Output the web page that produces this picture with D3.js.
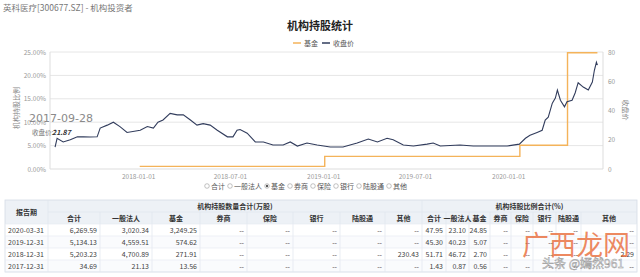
<!DOCTYPE html>
<html>
<head>
<meta charset="utf-8">
<script src="https://cdn.jsdelivr.net/npm/d3@7"></script>
<style>
  body { margin: 0; background: #fff; }
  svg { display: block; font-family: "Noto Sans CJK SC", "Noto Sans", sans-serif; }
</style>
</head>
<body>
<div id="chart"></div>
<script>
// closing price (收盘价)
var priceDates = ["2017-07-21","2017-07-25","2017-08-06","2017-08-20","2017-09-03","2017-09-15","2017-09-28","2017-10-12",
  "2017-10-18","2017-11-01","2017-11-13","2017-11-26","2017-12-10","2018-01-05","2018-01-19","2018-01-31","2018-02-09",
  "2018-02-19","2018-03-05","2018-03-19","2018-03-31","2018-04-14","2018-04-27","2018-05-09","2018-05-23","2018-06-06",
  "2018-06-26","2018-07-07","2018-07-15","2018-07-21","2018-08-04","2018-08-20","2018-09-05","2018-09-24","2018-10-14",
  "2018-10-28","2018-11-11","2018-11-30","2018-12-20","2019-01-15","2019-02-09","2019-03-09","2019-03-31","2019-04-18",
  "2019-05-07","2019-05-19","2019-06-08","2019-06-28","2019-07-25","2019-08-06","2019-08-20","2019-09-28","2019-10-24",
  "2019-11-27","2019-12-30","2020-01-23","2020-02-04","2020-02-13","2020-02-27","2020-03-08","2020-03-14","2020-03-20",
  "2020-03-28","2020-04-03","2020-04-07","2020-04-13","2020-04-21","2020-04-26","2020-05-06","2020-05-12","2020-05-18",
  "2020-05-28","2020-06-07","2020-06-15","2020-06-19","2020-06-23","2020-06-25"]
var priceValues = [15, 21, 18.5, 20, 22, 22, 21.87, 22,
  28, 30, 32, 29, 25, 26.5, 29, 28, 32,
  33.5, 38, 37, 37, 33.5, 30, 31, 30, 26.5,
  22, 22, 26.5, 27, 24.5, 18.5, 18.5, 16.4, 16.4,
  18.5, 15.7, 17.8, 16.4, 15, 15, 17.8, 20.5, 18.5,
  21, 20, 16.4, 15.7, 17, 17.8, 15.7, 16.4, 15.7,
  15.7, 15.7, 17, 21, 23, 25, 26.5, 33.5, 35.5,
  45, 48.5, 54, 47, 42.5, 46, 47, 52, 59,
  56, 54, 59.5, 67.5, 73, 71]

// fund holding ratio (基金, %), step series
var fundDates = ["2018-01-04","2018-12-28","2019-01-04","2020-01-24","2020-04-27","2020-06-25"]
var fundValues = [0.56, 0.56, 2.70, 5.07, 24.85, 24.85]

var xTicks = ["2018-01-01","2018-07-01","2019-01-01","2019-07-01","2020-01-01"]
var leftTicks = [0, 5, 10, 15, 20, 25]
var rightTicks = [0, 20, 40, 60, 80]
var filterNames = ["合计","一般法人","基金","券商","保险","银行","陆股通","其他"]

// table
var reportDates = ["2020-03-31","2019-12-31","2018-12-31","2017-12-31"]
var tableCols = ["合计","一般法人","基金","券商","保险","银行","陆股通","其他"]
var shareTotal = ["6,269.59","5,134.13","5,203.23","34.69"]
var shareCorp = ["3,020.34","4,559.51","4,700.89","21.13"]
var shareFund = ["3,249.25","574.62","271.91","13.56"]
var shareOther = ["--","--","230.43","--"]
var pctTotal = ["47.95","45.30","51.71","1.43"]
var pctCorp = ["23.10","40.23","46.72","0.87"]
var pctFund = ["24.85","5.07","2.70","0.56"]
var pctOther = ["--","--","2.29","--"]

var W = 640, H = 277
var parse = d3.timeParse("%Y-%m-%d")
var svg = d3.select('#chart').append('svg').attr('width', W).attr('height', H)

svg.append('text').attr('x', 3).attr('y', 11).attr('font-size', 8.5).attr('fill', '#777')
    .text('英科医疗[300677.SZ] - 机构投资者')

var x = d3.scaleTime().domain([parse("2017-07-11"), parse("2020-07-06")]).range([50, 603])
var yL = d3.scaleLinear().domain([0, 25]).range([169, 52])
var yR = d3.scaleLinear().domain([0, 80]).range([169, 52])

// grid
svg.append('g').selectAll('line').data(leftTicks.slice(1)).enter().append('line')
    .attr('x1', 50).attr('x2', 603).attr('y1', function (d) { return yL(d) }).attr('y2', function (d) { return yL(d) })
    .attr('stroke', '#e6e6e6')
svg.append('line').attr('x1', 50).attr('x2', 603).attr('y1', 169).attr('y2', 169).attr('stroke', '#ddd')
svg.append('line').attr('x1', 50).attr('x2', 50).attr('y1', 52).attr('y2', 169).attr('stroke', '#ddd')
svg.append('line').attr('x1', 603).attr('x2', 603).attr('y1', 52).attr('y2', 169).attr('stroke', '#ddd')

var axisL = svg.append('g').attr('transform', 'translate(50,0)')
    .call(d3.axisLeft(yL).tickValues(leftTicks).tickSize(0).tickPadding(4).tickFormat(function (d) { return d.toFixed(2) + '%' }))
var axisR = svg.append('g').attr('transform', 'translate(603,0)')
    .call(d3.axisRight(yR).tickValues(rightTicks).tickSize(0).tickPadding(5))
var axisX = svg.append('g').attr('transform', 'translate(0,169)')
    .call(d3.axisBottom(x).tickValues(xTicks.map(parse)).tickSize(0).tickPadding(5).tickFormat(d3.timeFormat('%Y-%m-%d')))
;[axisL, axisR, axisX].forEach(function (g) {
    g.select('.domain').remove()
    g.selectAll('text').attr('fill', '#999').attr('font-size', 6.5).attr('font-family', '"Noto Sans CJK SC", sans-serif')
})

svg.append('text').attr('transform', 'translate(19,108) rotate(-90)').attr('text-anchor', 'middle')
    .attr('font-size', 7).attr('fill', '#888').text('机构持股比例')
svg.append('text').attr('transform', 'translate(623,110) rotate(90)').attr('text-anchor', 'middle')
    .attr('font-size', 7).attr('fill', '#888').text('收盘价')

// lines
var fundLine = d3.line().curve(d3.curveStepAfter)
    .x(function (d, i) { return x(parse(fundDates[i])) }).y(function (d) { return yL(d) })
svg.append('path').attr('d', fundLine(fundValues)).attr('fill', 'none').attr('stroke', '#f4b35a').attr('stroke-width', 1.4)

var priceLine = d3.line()
    .x(function (d, i) { return x(parse(priceDates[i])) }).y(function (d) { return yR(d) })
svg.append('path').attr('d', priceLine(priceValues)).attr('fill', 'none').attr('stroke', '#313c5c').attr('stroke-width', 1.1)

// title + legend
svg.append('text').attr('x', 320).attr('y', 30).attr('text-anchor', 'middle').attr('font-size', 11)
    .attr('font-weight', 'bold').attr('fill', '#222').text('机构持股统计')
var leg = [{ name: '基金', c: '#f4b35a', x: 293 }, { name: '收盘价', c: '#313c5c', x: 322 }]
leg.forEach(function (l) {
    svg.append('line').attr('x1', l.x).attr('x2', l.x + 8).attr('y1', 43).attr('y2', 43).attr('stroke', l.c).attr('stroke-width', 1.5)
    svg.append('text').attr('x', l.x + 11).attr('y', 45.5).attr('font-size', 7).attr('fill', '#555').text(l.name)
})

// tooltip remnant
svg.append('text').attr('x', 29).attr('y', 122).attr('font-size', 11).attr('fill', '#8a8a8a')
    .attr('font-family', '"DejaVu Sans", sans-serif').text('2017-09-28')
svg.append('text').attr('x', 32).attr('y', 135).attr('font-size', 6.5).attr('fill', '#777').text('收盘价:')
svg.append('text').attr('x', 52).attr('y', 135).attr('font-size', 7).attr('font-weight', 'bold')
    .attr('font-style', 'italic').attr('fill', '#333').text('21.87')

// filter radio list
var fx = 207
filterNames.forEach(function (n) {
    var g = svg.append('g').attr('transform', 'translate(' + fx + ',186)')
    g.append('circle').attr('r', 2.3).attr('fill', 'none').attr('stroke', '#999').attr('stroke-width', 0.6)
    if (n == '基金') g.append('circle').attr('r', 1.2).attr('fill', '#555')
    var t = g.append('text').attr('x', 4).attr('y', 2.5).attr('font-size', 7).attr('fill', '#555').text(n)
    fx += 4 + t.node().getComputedTextLength() + 5
})

// table
var edges = [5, 48, 100, 152, 200, 247, 293, 340, 385, 422, 446, 469, 490, 511, 533, 556, 581, 637]
var rowTop = 224, rowH = 12
var tbl = svg.append('g')
tbl.append('rect').attr('x', 5).attr('y', 200).attr('width', 632).attr('height', 24).attr('fill', '#edf1f6')
reportDates.forEach(function (d, i) {
    tbl.append('rect').attr('x', 5).attr('y', rowTop + i * rowH).attr('width', 632).attr('height', rowH)
        .attr('fill', i % 2 ? '#fafbfd' : '#fff')
})
tbl.append('rect').attr('x', 5).attr('y', 200).attr('width', 632).attr('height', 72)
    .attr('fill', 'none').attr('stroke', '#d5dce6').attr('stroke-width', 0.8)
edges.slice(1, -1).forEach(function (e, i) {
    tbl.append('line').attr('x1', e).attr('x2', e).attr('y1', (e == 48 || e == 422) ? 200 : 212).attr('y2', 272)
        .attr('stroke', '#dfe5ee').attr('stroke-width', 0.7)
})
tbl.append('line').attr('x1', 48).attr('x2', 637).attr('y1', 212).attr('y2', 212).attr('stroke', '#dfe5ee').attr('stroke-width', 0.7)
for (var r = 0; r <= 4; r++) {
    tbl.append('line').attr('x1', 5).attr('x2', 637).attr('y1', rowTop + r * rowH).attr('y2', rowTop + r * rowH)
        .attr('stroke', '#e6ebf2').attr('stroke-width', 0.7)
}
function headText(tx, ty, s) {
    tbl.append('text').attr('x', tx).attr('y', ty).attr('text-anchor', 'middle').attr('font-size', 7)
        .attr('font-weight', 'bold').attr('fill', '#333').text(s)
}
headText(26.5, 214.5, '报告期')
headText(235, 208.5, '机构持股数量合计(万股)')
headText(529.5, 208.5, '机构持股比例合计(%)')
tableCols.concat(tableCols).forEach(function (c, i) {
    headText((edges[i + 1] + edges[i + 2]) / 2, 220.5, c)
})

var colData = [shareTotal, shareCorp, shareFund, null, null, null, null, shareOther,
    pctTotal, pctCorp, pctFund, null, null, null, null, pctOther]
reportDates.forEach(function (d, r) {
    var ty = rowTop + r * rowH + 8.5
    tbl.append('text').attr('x', 8).attr('y', ty).attr('font-size', 7).attr('fill', '#444').text(d)
    colData.forEach(function (col, c) {
        tbl.append('text').attr('x', edges[c + 2] - 3).attr('y', ty).attr('text-anchor', 'end')
            .attr('font-size', 7).attr('fill', '#444').text(col ? col[r] : '--')
    })
})

// watermark
svg.append('text').attr('x', 576).attr('y', 255).attr('text-anchor', 'middle').attr('font-size', 27)
    .attr('fill', '#e8622c').attr('fill-opacity', 0.75).text('广西龙网')
svg.append('text').attr('x', 583).attr('y', 268).attr('text-anchor', 'middle').attr('font-size', 12)
    .attr('fill', '#fff').attr('stroke', '#999').attr('stroke-width', 0.5).text('头条 @嫣然961')
</script>
</body>
</html>
